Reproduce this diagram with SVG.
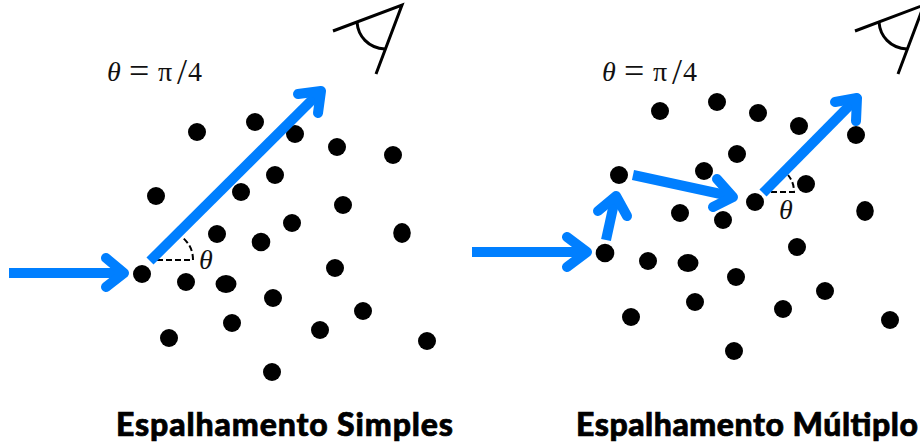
<svg xmlns="http://www.w3.org/2000/svg" width="920" height="448" viewBox="0 0 920 448">
<defs>
<style>
.d{fill:#000}
.a{fill:none;stroke:#007fff;stroke-width:10;stroke-linecap:round;stroke-linejoin:round}
.s{fill:none;stroke:#007fff;stroke-width:10;stroke-linecap:butt}
.e{fill:none;stroke:#000;stroke-width:3}
.g{fill:none;stroke:#000;stroke-width:2;stroke-dasharray:6 3}
.m{font-family:"Liberation Serif","DejaVu Serif",serif;font-size:28px;fill:#111}
.b{font-size:36px}
.t{font-family:"Lato","Liberation Sans",sans-serif;font-weight:900;font-size:32px;fill:#000;stroke:#000;stroke-width:.7}
</style>
<g id="eye"><path class="e" d="M333 31L402 5L376 74"/><path class="e" d="M357 22C358 36 368 48 385 49"/></g>
</defs>
<rect width="920" height="448" fill="#fff"/>
<g id="scene-simple">
<g id="dots-simple" class="d">
<circle cx="197" cy="132" r="9"/><circle cx="255" cy="122" r="9"/><circle cx="295" cy="134" r="9"/><circle cx="337" cy="147" r="9"/><circle cx="393" cy="155" r="9"/><circle cx="156" cy="196" r="9"/><circle cx="241" cy="192" r="9"/><circle cx="275" cy="175" r="9"/><circle cx="343" cy="205" r="9"/><circle cx="292" cy="223" r="9"/><ellipse cx="402" cy="233" rx="8.8" ry="10"/><circle cx="217" cy="234" r="9"/><circle cx="261" cy="242" r="9.3"/><circle cx="142" cy="274" r="9"/><circle cx="186" cy="282" r="9"/><ellipse cx="226" cy="284" rx="10.5" ry="9"/><circle cx="273" cy="298" r="9"/><circle cx="335" cy="268" r="9"/><circle cx="169" cy="338" r="9"/><circle cx="232" cy="323" r="9"/><circle cx="320" cy="330" r="9"/><circle cx="363" cy="311" r="9"/><circle cx="427" cy="341" r="9"/><circle cx="272" cy="372" r="9"/>
</g>
<use id="eye-simple" href="#eye"/>
<text class="m" id="eq-simple"><tspan x="107" y="81" font-style="italic">θ</tspan><tspan class="b" x="129" y="83">=</tspan><tspan x="158" y="81">π</tspan><tspan class="b" x="177" y="84">/</tspan><tspan x="188" y="81">4</tspan></text>
<text class="m" x="199" y="269" font-style="italic" font-size="23" id="theta-simple">θ</text>
<text class="t" x="116" y="436" textLength="337" id="title-simple">Espalhamento Simples</text>
</g>
<g id="scene-multiple">
<g id="dots-multiple" class="d">
<circle cx="660" cy="111" r="9"/><circle cx="717" cy="102" r="9"/><circle cx="758" cy="113" r="9"/><circle cx="799" cy="126" r="9"/><circle cx="856" cy="135" r="9"/><circle cx="737" cy="154" r="9"/><circle cx="704" cy="171" r="9"/><circle cx="619" cy="175" r="9"/><circle cx="806" cy="184" r="9"/><circle cx="755" cy="202" r="9"/><circle cx="680" cy="213" r="9"/><circle cx="723" cy="220" r="9"/><ellipse cx="865" cy="211" rx="8.8" ry="10"/><circle cx="605" cy="253" r="9.3"/><circle cx="648" cy="261" r="9"/><ellipse cx="688" cy="263" rx="10.5" ry="9"/><circle cx="736" cy="277" r="9"/><circle cx="797" cy="247" r="9"/><circle cx="825" cy="291" r="9"/><circle cx="695" cy="302" r="9"/><circle cx="783" cy="309" r="9"/><circle cx="631" cy="317" r="9"/><circle cx="890" cy="320" r="9"/><circle cx="734" cy="351" r="9"/>
</g>
<use id="eye-multiple" href="#eye" x="522"/>
<text class="m" id="eq-multiple"><tspan x="602" y="81" font-style="italic">θ</tspan><tspan class="b" x="624" y="83">=</tspan><tspan x="653" y="81">π</tspan><tspan class="b" x="672" y="84">/</tspan><tspan x="683" y="81">4</tspan></text>
<text class="m" x="779" y="219" font-style="italic" font-size="23" id="theta-multiple">θ</text>
<text class="t" x="576" y="436" textLength="342" id="title-multiple">Espalhamento Múltiplo</text>
</g>
<g id="connectors">
<path class="g" d="M157 260H193C193 250 189 243 182 237"/>
<path class="g" d="M771 192H794C794 185 792 180 788 175"/>
<path class="s" d="M9 273H122"/><path class="a" d="M106 258L124 273L106 287"/>
<path class="s" d="M150 261L319 93"/><path class="a" d="M298 94L321 91L318 113"/>
<path class="s" d="M472 252H585"/><path class="a" d="M567 237L587 252L567 267"/>
<path class="s" d="M606 240L615 199"/><path class="a" d="M598 211L616 196L627 216"/>
<path class="s" d="M633 175L730 196"/><path class="a" d="M717 179L733 197L713 207"/>
<path class="s" d="M763 193L855 100"/><path class="a" d="M835 102L857 98L856 121"/>
</g>
</svg>
